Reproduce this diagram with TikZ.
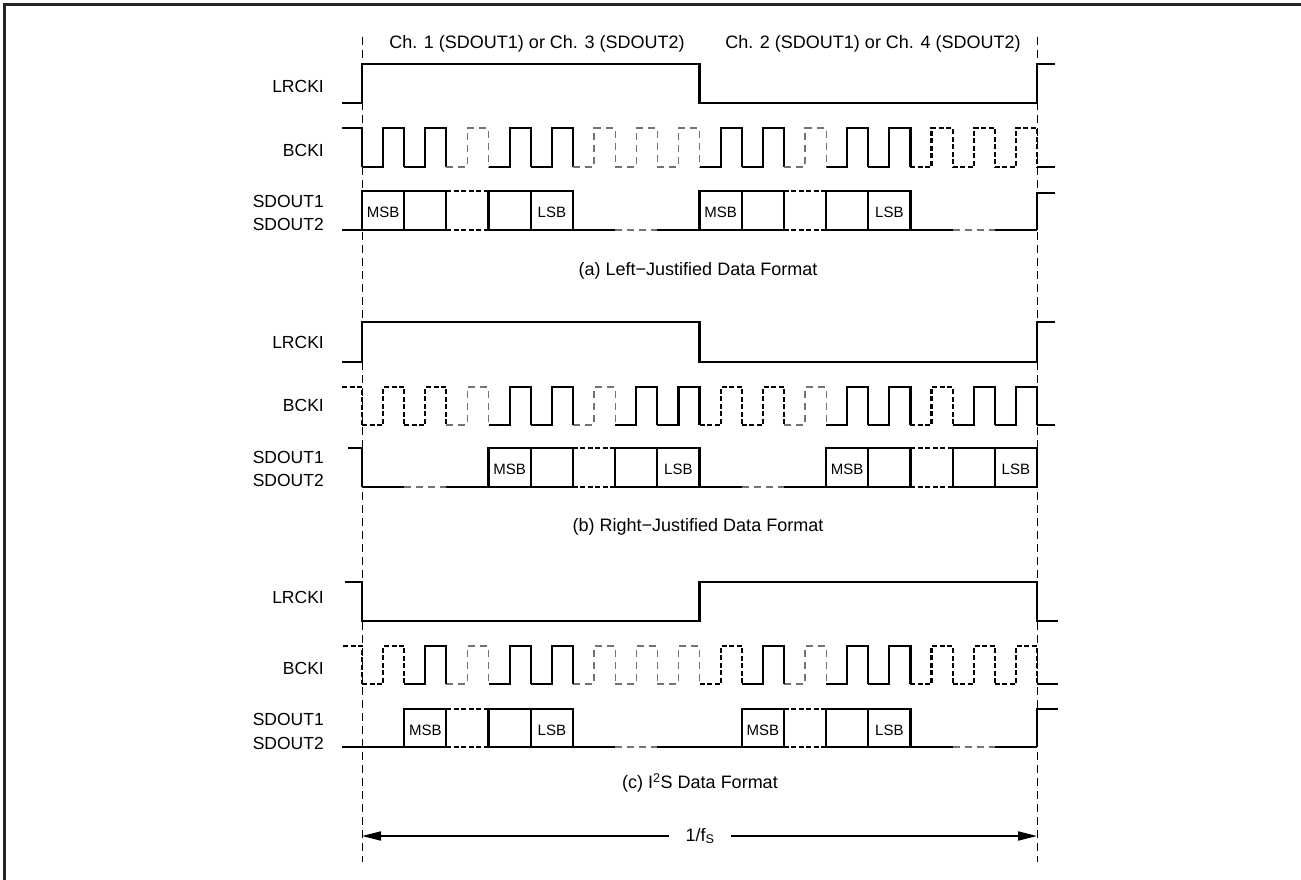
\documentclass[tikz,border=0pt]{standalone}
\usepackage{fontspec}
\setmainfont{Liberation Sans}
\usetikzlibrary{arrows.meta}
\begin{document}
\begin{tikzpicture}[x=1pt,y=-1pt,
  wsolid/.style={line width=2.2pt, black, line join=miter},
  wthin/.style={line width=1.1pt, black!55, dash pattern=on 7pt off 5pt},
  wheavy/.style={line width=2.2pt, black, dash pattern=on 5pt off 2.5pt},
  guide/.style={line width=0.9pt, black, dash pattern=on 8pt off 5pt},
  sig/.style={anchor=east, font=\fontsize{17.5}{19}\selectfont, inner sep=0pt},
  bit/.style={font=\fontsize{15}{17}\selectfont, inner sep=0pt},
  ttl/.style={font=\fontsize{18}{20}\selectfont, inner sep=0pt},
  per/.style={line width=1.8pt, -{Triangle[length=19pt,width=9pt]}}]
\useasboundingbox (0,0) rectangle (1301,880);
\pgfmathsetmacro{\hh}{675/32}
\pgfmathsetmacro{\xm}{362+16*\hh}
\newcommand{\bcyc}[4]{\draw[#2] ({362+2*#1*\hh},#4) -- ({362+(2*#1+1)*\hh},#4) -- ({362+(2*#1+1)*\hh},#3) -- ({362+(2*#1+2)*\hh},#3) -- ({362+(2*#1+2)*\hh},#4);}
\newcommand{\solbox}[3]{\draw[wsolid] ({362+2*#1*\hh},#3) rectangle ({362+(2*#1+2)*\hh},#2);}
\newcommand{\dshbox}[3]{\draw[wheavy] ({362+2*#1*\hh},#2) -- ({362+(2*#1+2)*\hh},#2); \draw[wheavy] ({362+2*#1*\hh},#3) -- ({362+(2*#1+2)*\hh},#3);}
\newcommand{\bline}[4]{\draw[#4] ({362+2*#1*\hh},#3) -- ({362+2*#2*\hh},#3);}

% frame
\draw[line width=3pt, black!85] (4.5,880) -- (4.5,4.5) -- (1301,4.5);

% guides
\draw[guide] (362,37) -- (362,862);
\draw[guide] (1037,37) -- (1037,862);

% channel titles
\node[ttl] (ch1) at (537,44) {Ch. 1 (SDOUT1) or Ch. 3 (SDOUT2)};
\node[ttl] (ch2) at (873,44) {Ch. 2 (SDOUT1) or Ch. 4 (SDOUT2)};

% ===================== (a) =====================
\node[sig] (la1) at (324,86) {LRCKI};
\node[sig] (lb1) at (324,150) {BCKI};
\node[sig] (ls1a) at (324,201) {SDOUT1};
\node[sig] (ls1b) at (324,224) {SDOUT2};
\draw[wsolid] (342,103) -- (362,103) -- (362,64) -- (\xm,64) -- (\xm,103) -- (1037,103) -- (1037,64) -- (1055,64);
\draw[wsolid] (342,128) -- (362,128) -- (362,167);
\foreach \c in {0,1,3,4,8,9,11,12} {\bcyc{\c}{wsolid}{128}{167}}
\foreach \c in {2,5,6,7,10} {\bcyc{\c}{wthin}{128}{167}}
\foreach \c in {13,14,15} {\bcyc{\c}{wheavy}{128}{167}}
\draw[wsolid] (1037,167) -- (1055,167);
\draw[wsolid] (342,230) -- (362,230);
\foreach \c in {0,1,3,4,8,9,11,12} {\solbox{\c}{191}{230}}
\foreach \c in {2,10} {\dshbox{\c}{191}{230}}
\bline{5}{6}{230}{wsolid} \bline{6}{7}{230}{wthin} \bline{7}{8}{230}{wsolid}
\bline{13}{14}{230}{wsolid} \bline{14}{15}{230}{wthin} \bline{15}{16}{230}{wsolid}
\draw[wsolid] (1037,230) -- (1037,193) -- (1055,193);
\node[bit] (ma1) at ({362+1*\hh},212.5) {MSB};
\node[bit] (sa1) at ({362+9*\hh},212.5) {LSB};
\node[bit] (ma2) at ({362+17*\hh},212.5) {MSB};
\node[bit] (sa2) at ({362+25*\hh},212.5) {LSB};
\node[ttl] (ta) at (698,271) {(a) Left−Justified Data Format};

% ===================== (b) =====================
\node[sig] (la2) at (324,342) {LRCKI};
\node[sig] (lb2) at (324,405) {BCKI};
\node[sig] (ls2a) at (324,457) {SDOUT1};
\node[sig] (ls2b) at (324,480) {SDOUT2};
\draw[wsolid] (342,362) -- (362,362) -- (362,322) -- (\xm,322) -- (\xm,362) -- (1037,362) -- (1037,322) -- (1055,322);
\draw[wheavy] (342,387) -- (362,387) -- (362,425);
\foreach \c in {0,1,8,9,13} {\bcyc{\c}{wheavy}{387}{425}}
\foreach \c in {2,5,10} {\bcyc{\c}{wthin}{387}{425}}
\foreach \c in {3,4,6,7,11,12,14,15} {\bcyc{\c}{wsolid}{387}{425}}
\draw[wsolid] (1037,425) -- (1055,425);
\draw[wsolid] (348,448) -- (362,448) -- (362,487);
\bline{0}{1}{487}{wsolid} \bline{1}{2}{487}{wthin} \bline{2}{3}{487}{wsolid}
\bline{8}{9}{487}{wsolid} \bline{9}{10}{487}{wthin} \bline{10}{11}{487}{wsolid}
\foreach \c in {3,4,6,7,11,12,14,15} {\solbox{\c}{448}{487}}
\foreach \c in {5,13} {\dshbox{\c}{448}{487}}
\node[bit] (mb1) at ({362+7*\hh},469.5) {MSB};
\node[bit] (sb1) at ({362+15*\hh},469.5) {LSB};
\node[bit] (mb2) at ({362+23*\hh},469.5) {MSB};
\node[bit] (sb2) at ({362+31*\hh},469.5) {LSB};
\node[ttl] (tb) at (698,527) {(b) Right−Justified Data Format};

% ===================== (c) =====================
\node[sig] (la3) at (324,597) {LRCKI};
\node[sig] (lb3) at (324,668) {BCKI};
\node[sig] (ls3a) at (324,719) {SDOUT1};
\node[sig] (ls3b) at (324,743) {SDOUT2};
\draw[wsolid] (345,582) -- (362,582) -- (362,621) -- (\xm,621) -- (\xm,582) -- (1037,582) -- (1037,621) -- (1058,621);
\draw[wheavy] (343,646) -- (362,646) -- (362,684);
\foreach \c in {0,8,13,14,15} {\bcyc{\c}{wheavy}{646}{684}}
\foreach \c in {2,5,6,7,10} {\bcyc{\c}{wthin}{646}{684}}
\foreach \c in {1,3,4,9,11,12} {\bcyc{\c}{wsolid}{646}{684}}
\draw[wsolid] (1037,684) -- (1058,684);
\draw[wsolid] (342,747) -- ({362+2*\hh},747);
\foreach \c in {1,3,4,9,11,12} {\solbox{\c}{709}{747}}
\foreach \c in {2,10} {\dshbox{\c}{709}{747}}
\bline{5}{6}{747}{wsolid} \bline{6}{7}{747}{wthin} \bline{7}{9}{747}{wsolid}
\bline{13}{14}{747}{wsolid} \bline{14}{15}{747}{wthin} \bline{15}{16}{747}{wsolid}
\draw[wsolid] (1037,747) -- (1037,709) -- (1058,709);
\node[bit] (mc1) at ({362+3*\hh},730) {MSB};
\node[bit] (sc1) at ({362+9*\hh},730) {LSB};
\node[bit] (mc2) at ({362+19*\hh},730) {MSB};
\node[bit] (sc2) at ({362+25*\hh},730) {LSB};
\node[ttl] (tc) at (700,783) {(c) I\textsuperscript{2}S Data Format};

% period arrow
\coordinate (pl) at (362,836);
\coordinate (pr) at (1037,836);
\node[ttl, inner xsep=16pt, inner ysep=2pt] (pfs) at (700,836) {1/f\textsubscript{S}};
\draw[per] (pfs.west |- pl) -- (pl);
\draw[per] (pfs.east |- pr) -- (pr);
\end{tikzpicture}
\end{document}
